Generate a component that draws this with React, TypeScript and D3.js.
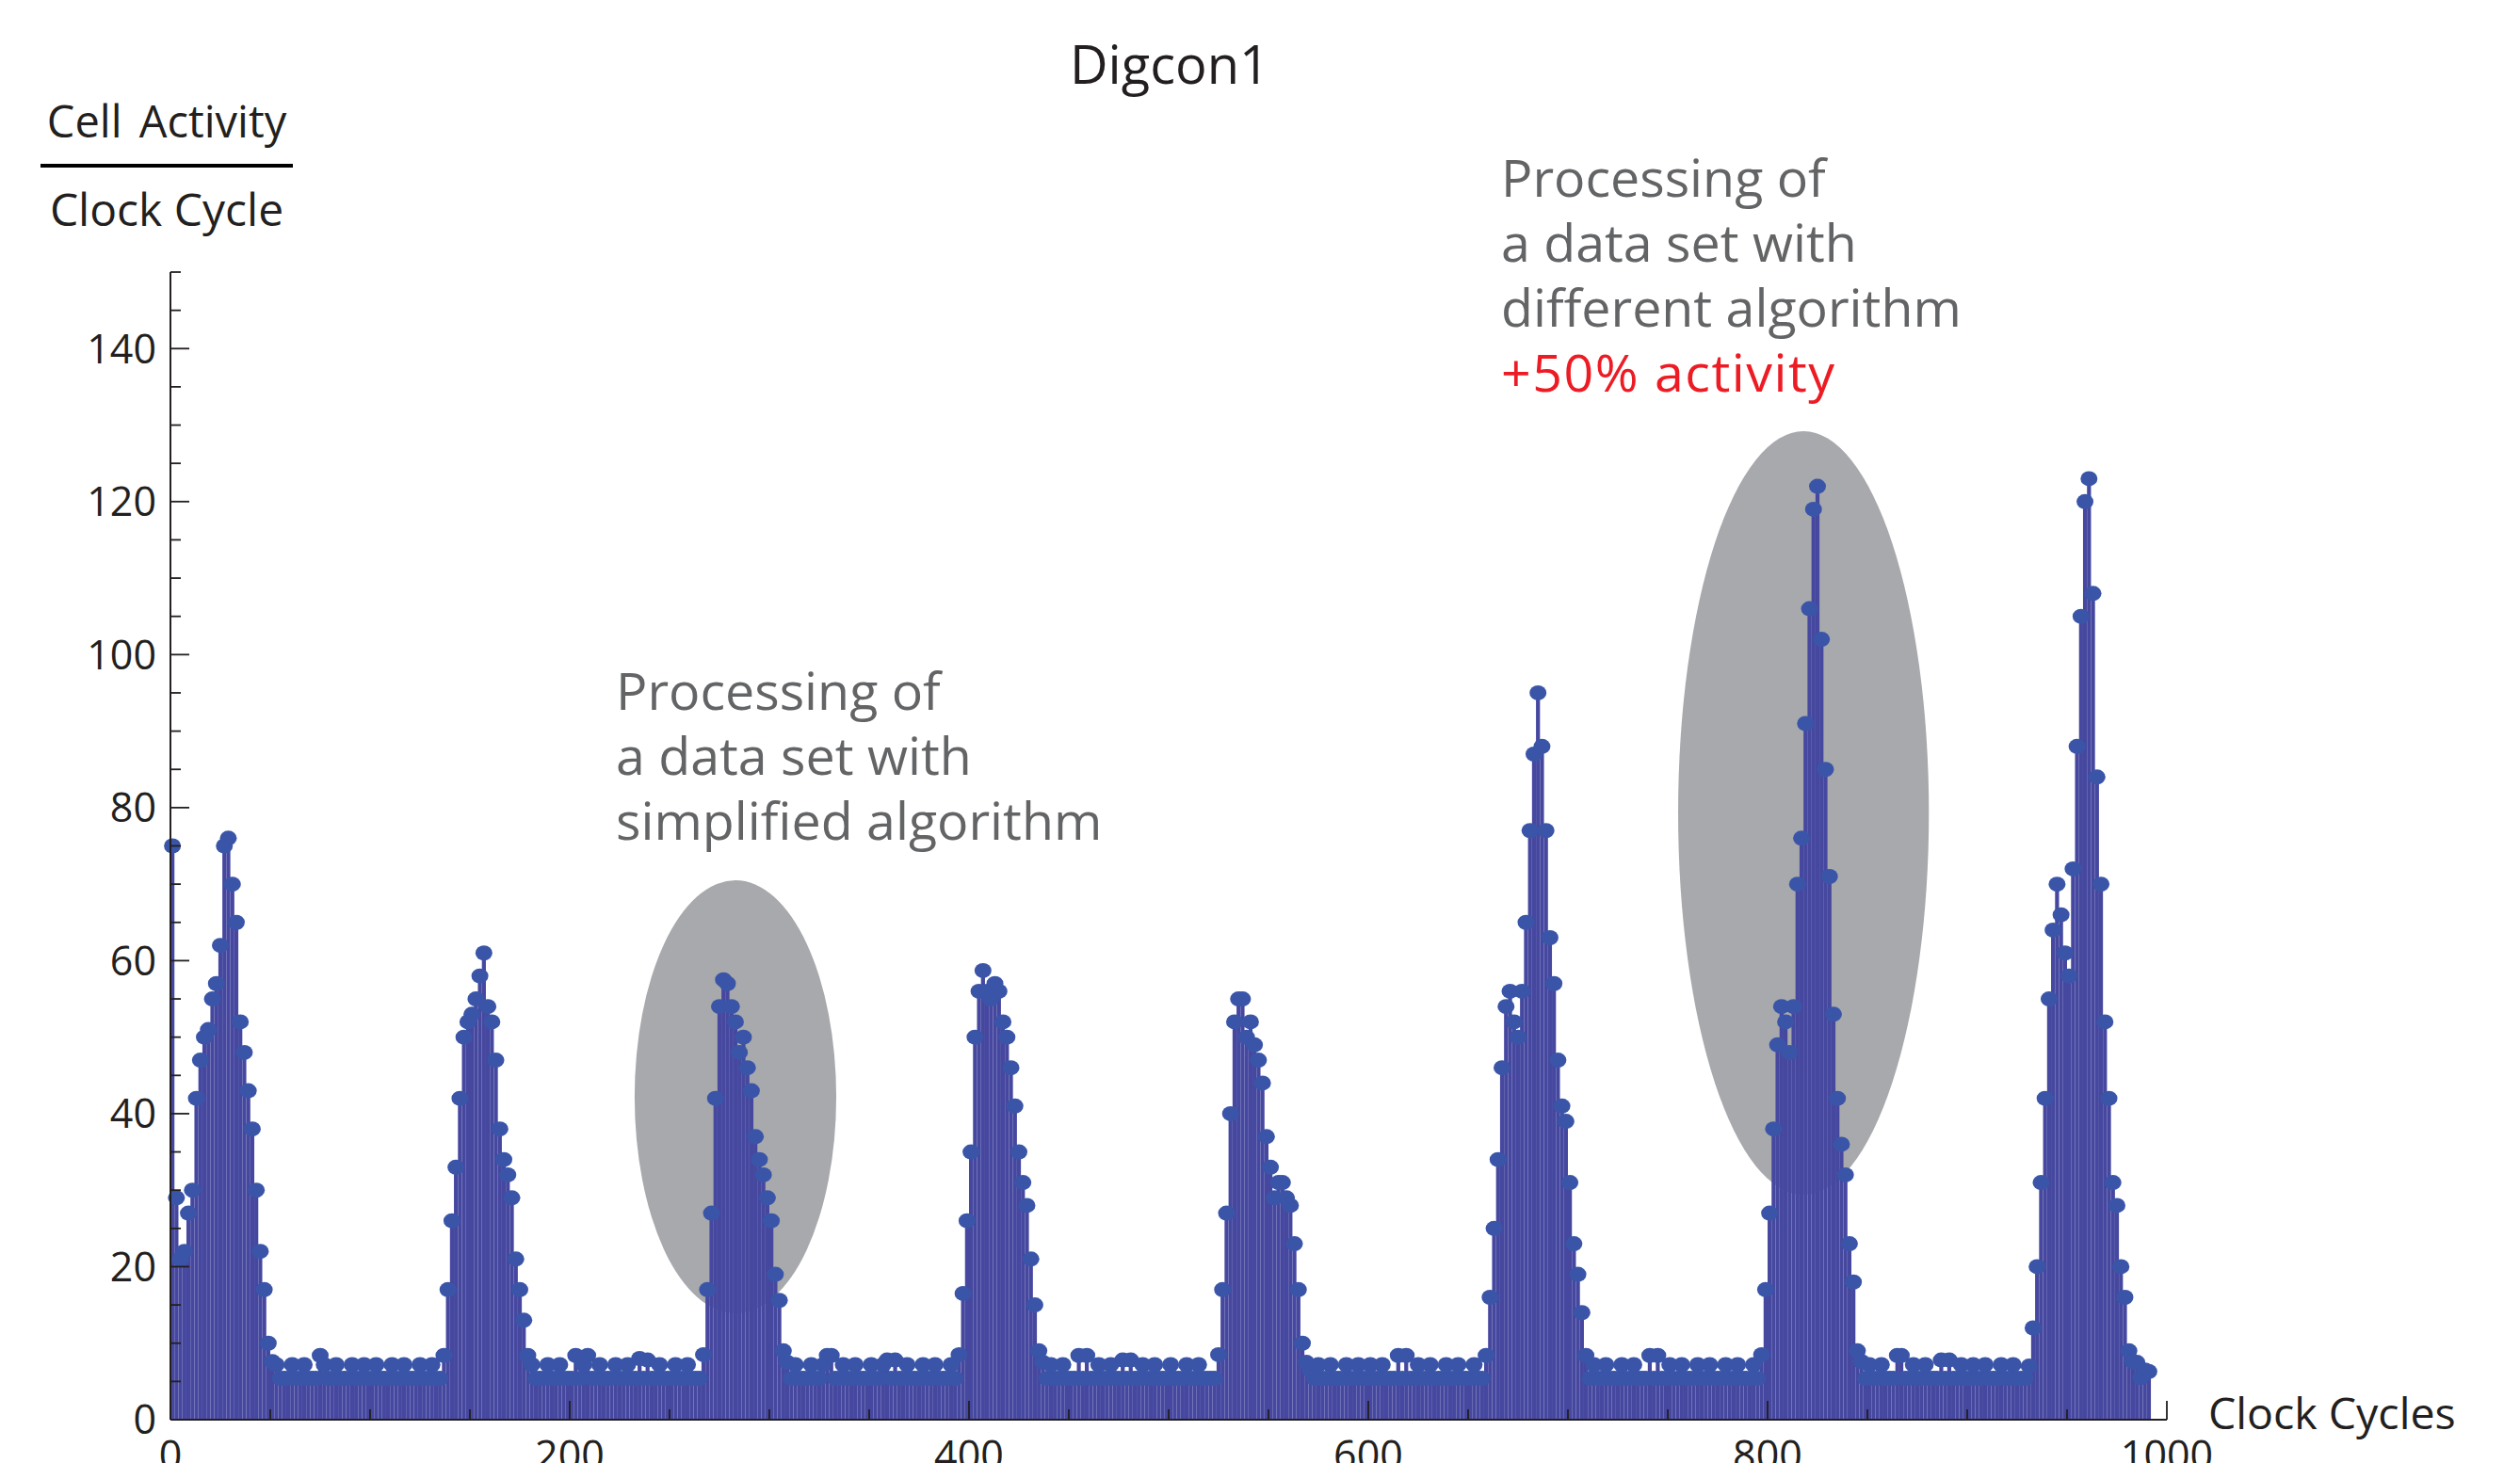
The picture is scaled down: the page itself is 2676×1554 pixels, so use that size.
import React from "react";
import * as d3 from "d3";

// cell activity per clock cycle, sampled every 2 cycles, one array per 100 cycles
const cycles000 = [75, 29, 21, 22, 27, 30, 42, 47, 50, 51, 55, 57, 62, 75, 76, 70, 65, 52, 48, 43, 38, 30, 22, 17, 10, 7.6,
  7.2, 5.4, 5.4, 5.4, 7.2, 5.4, 5.4, 7.2, 5.4, 5.4, 5.4, 8.4, 7.2, 5.4, 5.4, 7.2, 5.4, 5.4, 5.4, 7.2, 5.4, 5.4, 7.2, 5.4];
const cycles100 = [5.4, 7.2, 5.4, 5.4, 5.4, 7.2, 5.4, 5.4, 7.2, 5.4, 5.4, 5.4, 7.2, 5.4, 5.4, 7.2, 5.4, 5.4,
  8.4, 17, 26, 33, 42, 50, 52, 53, 55, 58, 61, 54, 52, 47, 38, 34, 32, 29, 21, 17, 13, 8.4,
  7.2, 5.4, 5.4, 5.4, 7.2, 5.4, 5.4, 7.2, 5.4, 5.4];
const cycles200 = [5.4, 8.4, 5.4, 7.2, 8.4, 5.4, 5.4, 7.2, 5.4, 5.4, 5.4, 7.2, 5.4, 5.4, 7.2, 5.4, 5.4, 8.0, 5.4, 7.8,
  5.4, 5.4, 7.2, 5.4, 5.4, 5.4, 7.2, 5.4, 5.4, 7.2, 5.4, 5.4, 5.4,
  8.5, 17, 27, 42, 54, 57.5, 57, 54, 52, 48, 50, 46, 43, 37, 34, 32, 29];
const cycles300 = [26, 19, 15.6, 9, 7.5,
  5.4, 7.2, 5.4, 5.4, 5.4, 7.2, 5.4, 5.4, 7.2, 8.4, 8.4, 5.4, 5.4, 7.2, 5.4, 5.4, 7.2, 5.4, 5.4, 5.4,
  7.2, 5.4, 5.4, 7.2, 7.8, 5.4, 7.8, 5.4, 5.4, 7.2, 5.4, 5.4, 5.4, 7.2, 5.4, 5.4, 7.2, 5.4, 5.4, 5.4, 7.2, 5.4,
  8.5, 16.5, 26];
const cycles400 = [35, 50, 56, 58.7, 56, 55, 57, 56, 52, 50, 46, 41, 35, 31, 28, 21, 15, 9, 7.5,
  5.4, 7.2, 5.4, 5.4, 7.2, 5.4, 5.4, 5.4, 8.4, 5.4, 8.4, 5.4, 5.4, 7.2, 5.4, 5.4, 7.2, 5.4, 5.4, 7.8,
  5.4, 7.8, 5.4, 5.4, 7.2, 5.4, 5.4, 7.2, 5.4, 5.4, 5.4];
const cycles500 = [7.2, 5.4, 5.4, 5.4, 7.2, 5.4, 5.4, 7.2, 5.4, 5.4, 5.4, 5.4,
  8.5, 17, 27, 40, 52, 55, 55, 50, 52, 49, 47, 44, 37, 33, 29, 31, 31, 29, 28, 23, 17, 10, 7.5,
  6.5, 5.4, 7.2, 5.4, 5.4, 7.2, 5.4, 5.4, 5.4, 7.2, 5.4, 5.4, 7.2, 5.4, 5.4];
const cycles600 = [7.2, 5.4, 5.4, 7.2, 5.4, 5.4, 5.4, 8.4, 5.4, 8.4, 5.4, 5.4, 7.2, 5.4, 5.4, 7.2, 5.4, 5.4, 5.4, 7.2,
  5.4, 5.4, 7.2, 5.4, 5.4, 5.4, 7.2, 5.4, 5.4,
  8.4, 16, 25, 34, 46, 54, 56, 52, 50, 56, 65, 77, 87, 95, 88, 77, 63, 57, 47, 41, 39];
const cycles700 = [31, 23, 19, 14, 8.4,
  5.4, 7.2, 5.4, 5.4, 7.2, 5.4, 5.4, 5.4, 7.2, 5.4, 5.4, 7.2, 5.4, 5.4, 5.4, 8.4, 5.4, 8.4, 5.4, 5.4,
  7.2, 5.4, 5.4, 7.2, 5.4, 5.4, 5.4, 7.2, 5.4, 5.4, 7.2, 5.4, 5.4, 5.4, 7.2, 5.4, 5.4, 7.2, 5.4, 5.4,
  5.4, 7.2, 5.4,
  8.5, 17];
const cycles800 = [27, 38, 49, 54, 52, 48, 54, 70, 76, 91, 106, 119, 122, 102, 85, 71, 53, 42, 36, 32, 23, 18, 9, 7.6,
  5.4, 7.2, 5.4, 5.4, 7.2, 5.4, 5.4, 5.4, 8.4, 8.4, 5.4, 5.4, 7.2, 5.4, 5.4, 7.2, 5.4, 5.4, 5.4, 7.8,
  5.4, 7.8, 5.4, 5.4, 7.2, 5.4];
const cycles900 = [5.4, 7.2, 5.4, 5.4, 7.2, 5.4, 5.4, 5.4, 7.2, 5.4, 5.4, 7.2, 5.4, 5.4, 5.4,
  7, 12, 20, 31, 42, 55, 64, 70, 66, 61, 58, 72, 88, 105, 120, 123, 108, 84, 70, 52, 42, 31, 28, 20, 16, 9,
  7.6, 7.5, 5.5, 6.5, 6.3];

const activityBlocks = [cycles000, cycles100, cycles200, cycles300, cycles400,
  cycles500, cycles600, cycles700, cycles800, cycles900];
const BLOCK = 100;
const STEP = 2;

const yLabels = [0, 20, 40, 60, 80, 100, 120, 140];
const xLabels = [0, 200, 400, 600, 800, 1000];

const simplifiedNote = ["Processing of", "a data set with", "simplified algorithm"];
const differentNote = ["Processing of", "a data set with", "different algorithm"];
const differentExtra = "+50% activity";

// grey highlights, in cycles / activity units
const highlights = [
  { cycle: 283, activity: 42.2, halfCycles: 50.5, halfActivity: 28.3 },
  { cycle: 818, activity: 79.3, halfCycles: 62.8, halfActivity: 49.9 },
];

const FONT = "'Open Sans', 'Noto Sans', sans-serif";
const INK = "#231f20";
const BAR = "#4648a0";
const DOT = "#3a55a8";

export default function App() {
  const width = 2676;
  const height = 1554;

  const x = d3.scaleLinear().domain([0, 1000]).range([181, 2301]);
  const y = d3.scaleLinear().domain([0, 150]).range([1508, 289]);

  const points = activityBlocks.flatMap((block, b) =>
    block.map((v, i) => ({ cycle: b * BLOCK + i * STEP, value: v }))
  );
  const barW = x(STEP) - x(0);

  const yMinor = d3.range(0, 151, 5);
  const xMinor = d3.range(0, 1001, 50);

  return (
    <svg width={width} height={height} style={{ position: "absolute", left: 0, top: 0, background: "#fff" }}
      fontFamily={FONT}>
      {highlights.map((h, i) => (
        <ellipse key={i} cx={x(h.cycle)} cy={y(h.activity)}
          rx={x(h.halfCycles) - x(0)} ry={y(0) - y(h.halfActivity)} fill="#a7a9ac" />
      ))}

      <g>
        {points.map((d, i) => (
          <rect key={i} x={x(d.cycle)} y={y(d.value)} width={barW}
            height={y(0) - y(d.value)} fill={BAR} />
        ))}
      </g>
      <g>
        {points.map((d, i) => (
          <ellipse key={i} cx={x(d.cycle) + barW / 2} cy={y(d.value)} rx={9} ry={8} fill={DOT} />
        ))}
      </g>

      {/* y axis */}
      <line x1={x(0)} x2={x(0)} y1={y(0)} y2={y(150)} stroke={INK} strokeWidth={2} />
      {yMinor.map(t => (
        <line key={t} x1={x(0)} x2={x(0) + (t % 20 === 0 ? 20 : 11)} y1={y(t)} y2={y(t)}
          stroke={INK} strokeWidth={1.8} />
      ))}
      {yLabels.map(t => (
        <text key={t} x={166} y={y(t)} dy="0.36em" textAnchor="end" fontSize={43} fill={INK}>{t}</text>
      ))}

      {/* x axis */}
      <line x1={x(0)} x2={x(1000)} y1={y(0)} y2={y(0)} stroke={INK} strokeWidth={2} />
      {xMinor.map(t => (
        <line key={t} x1={x(t)} x2={x(t)} y1={y(0)} y2={y(0) - (t % 200 === 0 ? 20 : 11)}
          stroke={INK} strokeWidth={1.8} />
      ))}
      {xLabels.map(t => (
        <text key={t} x={x(t)} y={1561} textAnchor="middle" fontSize={43} fill={INK}>{t}</text>
      ))}
      <text x={2345} y={1518} fontSize={46.5} fill={INK}>Clock Cycles</text>

      {/* y axis label as a fraction */}
      <text x={177} y={146} textAnchor="middle" fontSize={47} fill={INK} wordSpacing={6}>Cell Activity</text>
      <line x1={43} x2={311} y1={176} y2={176} stroke="#000" strokeWidth={4} />
      <text x={177} y={240} textAnchor="middle" fontSize={48} fill={INK}>Clock Cycle</text>

      <text x={1242} y={89} textAnchor="middle" fontSize={56} fill={INK}>Digcon1</text>

      {simplifiedNote.map((s, i) => (
        <text key={i} x={654} y={754 + i * 69} fontSize={55.5} fill="#636466">{s}</text>
      ))}
      {differentNote.map((s, i) => (
        <text key={i} x={1594} y={209 + i * 69} fontSize={55.5} fill="#636466">{s}</text>
      ))}
      <text x={1594} y={209 + 3 * 69} fontSize={55.5} letterSpacing={1.5} fill="#ed1c24">{differentExtra}</text>
    </svg>
  );
}
